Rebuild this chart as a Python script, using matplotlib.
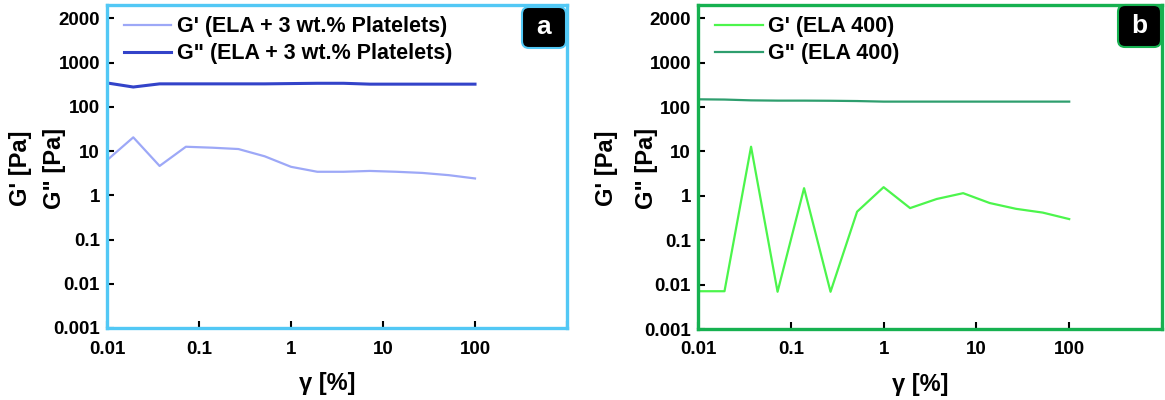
import matplotlib.pyplot as plt
from matplotlib.patches import FancyBboxPatch

plt.rcParams['font.family'] = ['Liberation Sans', 'DejaVu Sans']
plt.rcParams['font.weight'] = 'bold'

# strain amplitude [%]
strain = [0.01, 0.0193, 0.0373, 0.072, 0.139, 0.268, 0.518, 1.0,
          1.93, 3.73, 7.2, 13.9, 26.8, 51.8, 100]

# panel a: ELA + 3 wt.% platelets
g1_plt = [6.2, 20.4, 4.6, 12.5, 11.9, 11.1, 7.6, 4.4,
          3.4, 3.4, 3.55, 3.4, 3.2, 2.85, 2.4]
g2_plt = [346, 280, 330, 330, 330, 330, 330, 335,
          340, 340, 325, 325, 325, 325, 325]

# panel b: ELA 400
g1_ela = [0.0071, 0.0071, 12.8, 0.0069, 1.49, 0.0069, 0.44, 1.57,
          0.53, 0.85, 1.15, 0.69, 0.51, 0.42, 0.30]
g2_ela = [150, 148, 142, 140, 140, 139, 137, 133,
          133, 133, 133, 133, 133, 133, 133]

ytick_vals = [0.001, 0.01, 0.1, 1, 10, 100, 1000, 10000]
ytick_labels = ['0.001', '0.01', '0.1', '1', '10', '100', '1000', '2000']
xtick_vals = [0.01, 0.1, 1, 10, 100, 1000]
xtick_labels = ['0.01', '0.1', '1', '10', '100', '']

W, H = 1165, 400
fig = plt.figure(figsize=(W / 100, H / 100), dpi=100)


def px(x, y):
    return x / W, 1 - y / H


panels = [
    # rect (pixels: left, top, right, bottom), frame colour, series, badge
    dict(box=(107, 5, 567, 328), frame='#52C8F5',
         series=[(g1_plt, "G' (ELA + 3 wt.% Platelets)", '#9DA8F7', 1.6),
                 (g2_plt, 'G" (ELA + 3 wt.% Platelets)', '#3343C9', 2.2)],
         badge=(522, 7, 566, 48, 'a'), ylab_x=(20, 55)),
    dict(box=(698, 5, 1162, 329), frame='#16B150',
         series=[(g1_ela, "G' (ELA 400)", '#4CF54C', 1.6),
                 (g2_ela, 'G" (ELA 400)', '#2E9E6E', 1.6)],
         badge=(1118, 5, 1161, 47, 'b'), ylab_x=(606, 646)),
]

for p in panels:
    l, t, r, b = p['box']
    ax = fig.add_axes([l / W, 1 - b / H, (r - l) / W, (b - t) / H])
    for vals, lab, col, lw in p['series']:
        ax.plot(strain, vals, color=col, lw=lw, label=lab)
    ax.set_xscale('log')
    ax.set_yscale('log')
    ax.set_xlim(0.01, 1000)
    ax.set_ylim(0.001, 2e4)
    ax.set_xticks(xtick_vals)
    ax.set_xticklabels(xtick_labels)
    ax.set_yticks(ytick_vals)
    ax.set_yticklabels(ytick_labels)
    ax.minorticks_off()
    ax.tick_params(axis='both', direction='in', length=5, width=1.5,
                   labelsize=13.5)
    ax.tick_params(axis='x', pad=9)
    ax.tick_params(axis='y', pad=5)
    for s in ax.spines.values():
        s.set_color(p['frame'])
        s.set_linewidth(2.4)
    ax.set_xlabel('γ [%]', fontsize=17, fontweight='bold')
    ax.xaxis.set_label_coords(0.478, -0.135)
    ax.legend(loc='upper left', bbox_to_anchor=(0.037, 0.965), frameon=False,
              fontsize=15.5, handlelength=2.2, handletextpad=0.25,
              labelspacing=0.27, borderaxespad=0, borderpad=0)

    # y labels
    for xl, txt in zip(p['ylab_x'], ["G' [Pa]", 'G" [Pa]']):
        fx, fy = px(xl, 168)
        fig.text(fx, fy, txt, rotation=90, fontsize=17, fontweight='bold',
                 ha='center', va='center')

    # panel badge
    bx0, by0, bx1, by1, letter = p['badge']
    badge = FancyBboxPatch((bx0 / 100, (H - by1) / 100), (bx1 - bx0) / 100,
                           (by1 - by0) / 100,
                           boxstyle='round,pad=0,rounding_size=0.07',
                           transform=fig.dpi_scale_trans, fc='black',
                           ec=p['frame'], lw=1.5, zorder=5)
    fig.patches.append(badge)
    cx, cy = px((bx0 + bx1) / 2, (by0 + by1) / 2)
    fig.text(cx, cy, letter, color='white', fontsize=19, fontweight='bold',
             ha='center', va='center', zorder=6)

fig.savefig('out.png', dpi=100)
